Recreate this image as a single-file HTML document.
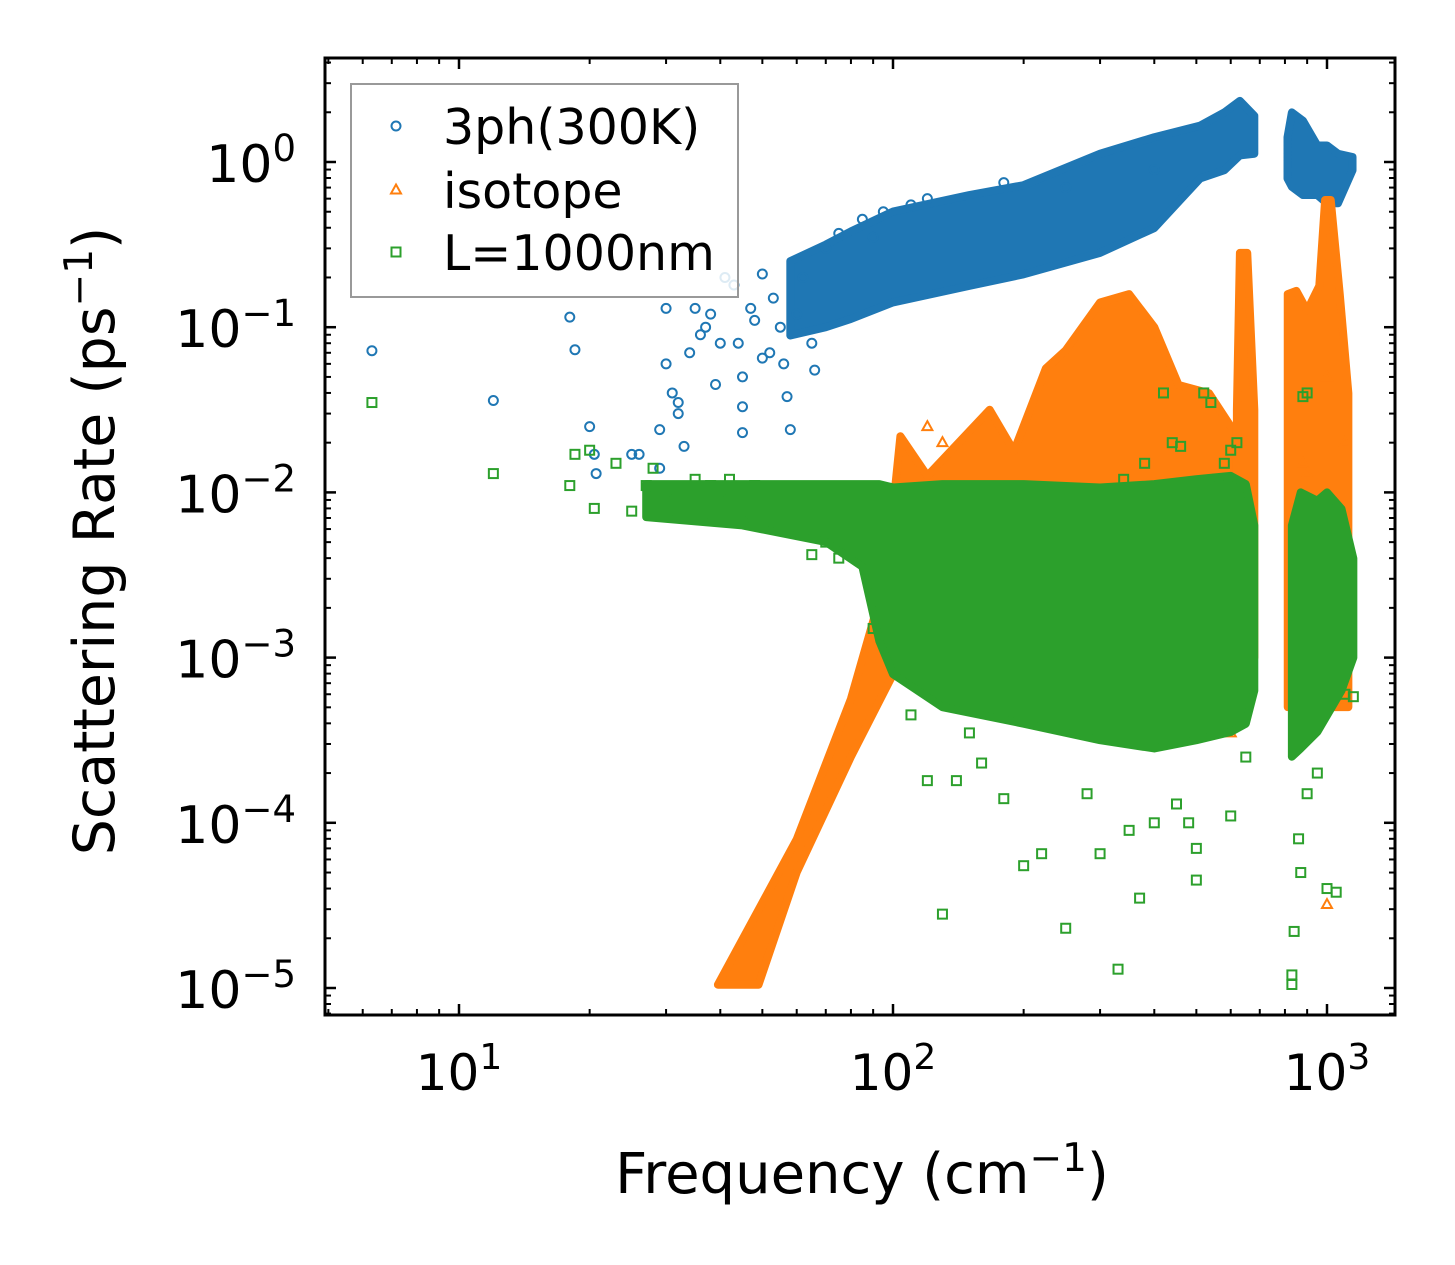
<!DOCTYPE html>
<html><head><meta charset="utf-8"><style>
html,body{margin:0;padding:0;background:#fff;}
svg{display:block;font-family:"DejaVu Sans","Liberation Sans",sans-serif;}
</style></head><body>
<svg id="chart" width="1455" height="1265" viewBox="0 0 1455 1265" xmlns="http://www.w3.org/2000/svg">
<rect x="0" y="0" width="1455" height="1265" fill="#fff"/>
<defs><clipPath id="plotclip"><rect x="325" y="58" width="1070" height="957"/></clipPath></defs>
<g id="marks" clip-path="url(#plotclip)"></g>
<g id="axes"></g>
</svg>
<script>
// ---- data (log10 envelopes of dense clouds) ----
const blueBandFreq = [58, 70, 80, 100, 150, 200, 300, 400, 510, 580, 630, 680];
const blueBandLow  = [-1.05, -1.0, -0.95, -0.85, -0.75, -0.68, -0.55, -0.4, -0.1, -0.05, 0.04, 0.05];
const blueBandHigh = [-0.6, -0.5, -0.42, -0.3, -0.2, -0.14, 0.05, 0.15, 0.22, 0.3, 0.37, 0.28];
const blueBand2Freq = [811, 830, 880, 950, 1000, 1060, 1145];
const blueBand2Low  = [-0.1, -0.15, -0.2, -0.2, -0.25, -0.25, -0.05];
const blueBand2High = [0.15, 0.3, 0.25, 0.1, 0.1, 0.05, 0.03];

const orangeDiagFreq = [39.5, 60, 80, 93, 107, 80, 60, 49];
const orangeDiagLog  = [-4.98, -4.1, -3.25, -2.65, -2.95, -3.6, -4.3, -4.98];
const orangeTopFreq = [100, 104, 120, 167, 190, 225, 250, 300, 350, 400, 455, 535, 600, 620];
const orangeTopLog  = [-2.1, -1.66, -1.9, -1.5, -1.75, -1.25, -1.14, -0.85, -0.8, -1.0, -1.35, -1.4, -1.6, -1.6];
const orangeSpikeFreq = [620, 630, 655, 680];
const orangeSpikeHigh = [-1.5, -0.55, -0.55, -1.5];
const orangeBand2Freq = [812, 850, 900, 960, 990, 1020, 1070, 1120];
const orangeBand2High = [-0.8, -0.78, -0.9, -0.75, -0.23, -0.23, -0.8, -1.4];

const greenBandFreq = [27, 45, 70, 85, 93, 100, 130, 200, 300, 400, 500, 600, 650, 680];
const greenBandLow  = [-2.15, -2.2, -2.3, -2.45, -2.9, -3.1, -3.3, -3.4, -3.5, -3.55, -3.5, -3.45, -3.4, -3.2];
const greenBandHigh = [-1.95, -1.95, -1.95, -1.95, -1.95, -1.97, -1.95, -1.95, -1.97, -1.95, -1.92, -1.9, -1.95, -2.2];
const greenBand2Freq = [830, 870, 950, 1000, 1080, 1150];
const greenBand2Low  = [-3.6, -3.55, -3.45, -3.35, -3.2, -3.0];
const greenBand2High = [-2.2, -2.0, -2.05, -2.0, -2.1, -2.4];

const blueFreq = [6.3,12,18,18.5,20,20.5,20.7,25,26,29,29,30,30,31,32,32,33,34,35,36,37,38,39,40,41,43,44,45,45,45,47,48,50,50,52,53,55,56,57,58,60,62,65,66,70,75,85,90,95,110,120,180,250,400];
const blueVal  = [0.072,0.036,0.115,0.073,0.025,0.017,0.013,0.017,0.017,0.024,0.014,0.13,0.06,0.04,0.03,0.035,0.019,0.07,0.13,0.09,0.1,0.12,0.045,0.08,0.2,0.18,0.08,0.05,0.033,0.023,0.13,0.11,0.21,0.065,0.07,0.15,0.1,0.06,0.038,0.024,0.12,0.2,0.08,0.055,0.3,0.37,0.45,0.35,0.5,0.55,0.6,0.75,0.7,0.9];
const orangeFreq = [830,1000,1000,1100,600,650,650,560,540,120,130,880,900];
const orangeVal  = [0.004,3.2e-5,0.05,0.02,3.5e-4,0.008,0.02,0.01,0.012,0.025,0.02,0.015,0.013];
const greenFreq = [6.3,12,18,18.5,20,20.5,23,25,27,28,30,32,35,38,40,42,45,48,50,55,60,65,70,75,130,250,330,370,500,420,520,540,600,880,900,1000,1050,830,830,840,200,180,220,300,350,400,450,480,500,120,140,160,110,150,280,600,650,860,870,900,950,1100,1150,380,440,460,560,580,620,340,90,100];
const greenVal  = [0.035,0.013,0.011,0.017,0.018,0.008,0.015,0.0077,0.011,0.014,0.009,0.008,0.012,0.011,0.009,0.012,0.0075,0.011,0.0083,0.0095,0.009,0.0042,0.005,0.004,2.8e-5,2.3e-5,1.3e-5,3.5e-5,4.5e-5,0.04,0.04,0.035,0.018,0.038,0.04,4e-5,3.8e-5,1.2e-5,1.05e-5,2.2e-5,5.5e-5,1.4e-4,6.5e-5,6.5e-5,9e-5,1e-4,1.3e-4,1e-4,7e-5,1.8e-4,1.8e-4,2.3e-4,4.5e-4,3.5e-4,1.5e-4,1.1e-4,2.5e-4,8e-5,5e-5,1.5e-4,2e-4,6e-4,5.8e-4,0.015,0.02,0.019,0.012,0.015,0.02,0.012,0.0015,0.0009];

const xTickVals = [1, 2, 3];
const yTickVals = [0, -1, -2, -3, -4, -5];

// ---- axes ----
const L=325,R=1395,T=58,B=1015;
const sx = f => 459 + 434*(Math.log10(f) - 1);
const syl = lg => 162 - 165.2*lg;
const sy = v => syl(Math.log10(v));
const NS="http://www.w3.org/2000/svg";
const marks=document.getElementById('marks'), axes=document.getElementById('axes');
function mk(tag, attrs, parent){const e=document.createElementNS(NS,tag);for(const k in attrs)e.setAttribute(k,attrs[k]);parent.appendChild(e);return e;}
const C={b:'#1f77b4',o:'#ff7f0e',g:'#2ca02c'};

function band(fr, lo, hi, color, name){
  let pts=[];
  for(let i=0;i<fr.length;i++)pts.push(sx(fr[i])+','+syl(hi[i]));
  for(let i=fr.length-1;i>=0;i--)pts.push(sx(fr[i])+','+syl(lo[i]));
  const p=mk('polygon',{points:pts.join(' '),fill:color,stroke:color,'stroke-width':8,'stroke-linejoin':'round'},marks);
  
  
}
function poly(fr, lg, color, name){
  const pts=fr.map((f,i)=>sx(f)+','+syl(lg[i])).join(' ');
  const p=mk('polygon',{points:pts,fill:color,stroke:color,'stroke-width':8,'stroke-linejoin':'round'},marks);
  
  
}
function circ(x,y,c,parent){return mk('circle',{cx:x,cy:y,r:4.5,fill:'none',stroke:c,'stroke-width':2},parent);}
function tri(x,y,c,parent){return mk('polygon',{points:`${x},${y-5.5} ${x+5},${y+3.5} ${x-5},${y+3.5}`,fill:'none',stroke:c,'stroke-width':2},parent);}
function sq(x,y,c,parent){return mk('rect',{x:x-4.5,y:y-4.5,width:9,height:9,fill:'none',stroke:c,'stroke-width':2},parent);}

// blue
band(blueBandFreq, blueBandLow, blueBandHigh, C.b, 'phonon-3ph-cloud');
band(blueBand2Freq, blueBand2Low, blueBand2High, C.b, 'phonon-3ph-cloud-high');
blueFreq.forEach((f,i)=>{const e=circ(sx(f),sy(blueVal[i]),C.b,marks);

});
// orange
poly(orangeDiagFreq, orangeDiagLog, C.o, 'isotope-diagonal-cloud');
band(orangeTopFreq, orangeTopFreq.map(()=>-3.0), orangeTopLog, C.o, 'isotope-cloud');
band(orangeSpikeFreq, orangeSpikeFreq.map(()=>-3.0), orangeSpikeHigh, C.o, 'isotope-spike');
band(orangeBand2Freq, orangeBand2Freq.map(()=>-3.3), orangeBand2High, C.o, 'isotope-cloud-high');
orangeFreq.forEach((f,i)=>{const e=tri(sx(f),sy(orangeVal[i]),C.o,marks);

});
// green
band(greenBandFreq, greenBandLow, greenBandHigh, C.g, 'boundary-cloud');
band(greenBand2Freq, greenBand2Low, greenBand2High, C.g, 'boundary-cloud-high');
greenFreq.forEach((f,i)=>{const e=sq(sx(f),sy(greenVal[i]),C.g,marks);

});

// frame
const fr=mk('rect',{x:L,y:T,width:R-L,height:B-T,fill:'none',stroke:'#000','stroke-width':3},axes);


// x ticks
for(let d=0;d<=3;d++){for(let m=1;m<10;m++){const f=m*Math.pow(10,d);const x=sx(f);if(x<L||x>R)continue;
const len=m===1?11:6;
mk('line',{x1:x,y1:B,x2:x,y2:B-len,stroke:'#000','stroke-width':m===1?2.5:2},axes);
mk('line',{x1:x,y1:T,x2:x,y2:T+len,stroke:'#000','stroke-width':m===1?2.5:2},axes);}}
xTickVals.forEach(p=>{const t=mk('text',{x:sx(Math.pow(10,p)),y:1090,'font-size':50,'text-anchor':'middle',fill:'#000'},axes);


t.innerHTML='10<tspan dy="-21" font-size="36">'+p+'</tspan>';});
// y ticks
for(let d=-6;d<=0;d++){for(let m=1;m<10;m++){const v=m*Math.pow(10,d);const y=sy(v);if(y<T||y>B)continue;
const len=m===1?11:6;
mk('line',{x1:L,y1:y,x2:L+len,y2:y,stroke:'#000','stroke-width':m===1?2.5:2},axes);
mk('line',{x1:R,y1:y,x2:R-len,y2:y,stroke:'#000','stroke-width':m===1?2.5:2},axes);}}
yTickVals.forEach(p=>{const t=mk('text',{x:296,y:syl(p)+20,'font-size':52,'text-anchor':'end',fill:'#000'},axes);


t.innerHTML='10<tspan dy="-21" font-size="37">'+(p===0?'0':'\u2212'+(-p))+'</tspan>';});
// axis titles
const xt=mk('text',{x:862,y:1193,'font-size':56,'text-anchor':'middle',fill:'#000'},axes);


xt.innerHTML='Frequency (cm<tspan dy="-22" font-size="39">\u22121</tspan><tspan dy="22">)</tspan>';
const yt=mk('text',{x:0,y:0,'font-size':57,'text-anchor':'middle',fill:'#000',transform:'translate(114,541) rotate(-90)'},axes);


yt.innerHTML='Scattering Rate (ps<tspan dy="-22" font-size="39">\u22121</tspan><tspan dy="22">)</tspan>';
// legend
const lg=mk('g',{},axes);


mk('rect',{x:351,y:84,width:387,height:213,fill:'#fff','fill-opacity':0.85,stroke:'#999','stroke-width':2},lg);
const entries=[['3ph(300K)',C.b,circ,126],['isotope',C.o,tri,190],['L=1000nm',C.g,sq,252]];
entries.forEach(([lab,c,fn,y])=>{const g=mk('g',{},lg);


fn(396,y,c,g);
const t=mk('text',{x:443,y:y+18,'font-size':49,fill:'#000'},g);t.textContent=lab;});
</script>
</body></html>
